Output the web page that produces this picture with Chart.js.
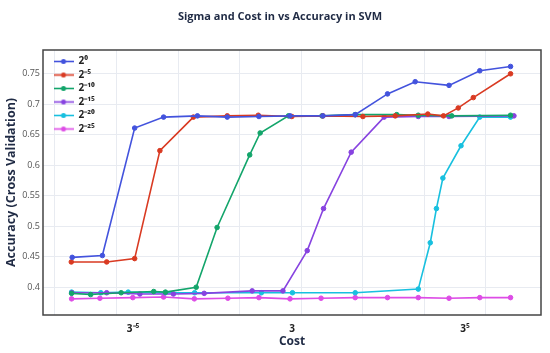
<!DOCTYPE html>
<html>
<head>
<meta charset="utf-8">
<script src="https://cdn.jsdelivr.net/npm/chart.js@4.4.1/dist/chart.umd.min.js"></script>
<style>
    html, body { margin: 0; padding: 0; background: #fff; }
    #wrap { width: 550px; height: 353px; }
</style>
</head>
<body>
<div id="wrap"><canvas id="chart" width="550" height="353"></canvas></div>
<script>
// Sigma (gamma) values shown in the legend
const sigmaLabels = ['2⁰', '2⁻⁵', '2⁻¹⁰', '2⁻¹⁵', '2⁻²⁰', '2⁻²⁵'];

// cost position (axis units) and accuracy for each sigma
const cost0 = [0.56, 1.54, 2.59, 3.53, 4.63, 5.60, 6.63, 7.64, 8.71, 9.76, 10.81, 11.71, 12.81, 13.81, 14.81];
const acc0  = [0.449, 0.452, 0.661, 0.679, 0.681, 0.679, 0.680, 0.681, 0.681, 0.683, 0.717, 0.737, 0.731, 0.755, 0.762];

const cost5 = [0.53, 1.68, 2.59, 3.41, 4.50, 5.60, 6.61, 7.70, 8.71, 10.01, 11.06, 12.12, 12.63, 13.11, 13.60, 14.81];
const acc5  = [0.4415, 0.4415, 0.447, 0.624, 0.679, 0.681, 0.682, 0.680, 0.681, 0.680, 0.681, 0.684, 0.681, 0.694, 0.711, 0.750];

const cost10 = [0.54, 1.16, 2.15, 3.21, 3.59, 4.59, 5.27, 6.33, 6.67, 7.59, 8.68, 9.76, 11.11, 11.81, 12.90, 14.81];
const acc10  = [0.390, 0.388, 0.391, 0.393, 0.392, 0.400, 0.498, 0.617, 0.653, 0.681, 0.681, 0.683, 0.683, 0.682, 0.681, 0.682];

const cost15 = [0.55, 1.68, 2.76, 3.85, 4.85, 6.41, 7.41, 8.20, 8.73, 9.63, 10.70, 11.81, 12.81, 14.92];
const acc15  = [0.391, 0.391, 0.389, 0.389, 0.390, 0.394, 0.394, 0.460, 0.529, 0.6215, 0.679, 0.680, 0.680, 0.681];

const cost20 = [0.54, 1.49, 2.38, 3.59, 4.54, 6.71, 7.72, 9.76, 11.81, 12.20, 12.40, 12.61, 13.20, 13.81, 14.81];
const acc20  = [0.392, 0.391, 0.392, 0.391, 0.391, 0.391, 0.391, 0.391, 0.397, 0.473, 0.529, 0.579, 0.632, 0.679, 0.679];

const cost25 = [0.54, 1.46, 2.53, 3.53, 4.53, 5.62, 6.63, 7.64, 8.65, 9.76, 10.81, 11.81, 12.81, 13.81, 14.81];
const acc25  = [0.381, 0.382, 0.383, 0.384, 0.381, 0.382, 0.383, 0.381, 0.382, 0.383, 0.383, 0.383, 0.382, 0.383, 0.383];

// axis ticks
const costGrid = [0, 2, 4, 6, 8, 10, 12, 14];
const costTickPos = [2.54, 7.71, 13.33];
const costTickText = ['3⁻⁵', '3', '3⁵'];
const accTicks = [0.4, 0.45, 0.5, 0.55, 0.6, 0.65, 0.7, 0.75];

const colors = ['#4353dd', '#d93a22', '#13a56b', '#8743e0', '#18c0df', '#dd4ce6'];
const costs = [cost0, cost5, cost10, cost15, cost20, cost25];
const accs = [acc0, acc5, acc10, acc15, acc20, acc25];

const xMin = -0.39, xMax = 15.8;

// small line+dot icon for legend entries
const makeIcon = (color) => {
    const c = document.createElement('canvas');
    c.width = 20; c.height = 7;
    const g = c.getContext('2d');
    g.strokeStyle = color; g.lineWidth = 1.6;
    g.beginPath(); g.moveTo(0, 3.5); g.lineTo(20, 3.5); g.stroke();
    g.fillStyle = color;
    g.beginPath(); g.arc(10, 3.5, 2.5, 0, Math.PI * 2); g.fill();
    return c;
};
const icons = colors.map(makeIcon);

const datasets = sigmaLabels.map((label, i) => ({
    label,
    data: costs[i].map((x, j) => ({ x, y: accs[i][j] })),
    borderColor: colors[i],
    backgroundColor: colors[i],
    pointBackgroundColor: colors[i],
    pointBorderColor: colors[i],
    borderWidth: 1.6,
    pointRadius: 2.3,
    pointBorderWidth: 1,
    tension: 0,
}));

const framePlugin = {
    id: 'frame',
    beforeDatasetsDraw(chart) {
        const { ctx, chartArea: a } = chart;
        ctx.save();
        ctx.strokeStyle = '#444';
        ctx.lineWidth = 1.5;
        ctx.strokeRect(a.left, a.top, a.right - a.left, a.bottom - a.top);
        ctx.restore();
    },
};

// legend sits inside the plot, title is centred a bit right of the canvas
const placeBoxes = {
    id: 'placeBoxes',
    afterLayout(chart) {
        const lg = chart.legend;
        if (lg) {
            const h = lg.height;
            lg.left = chart.chartArea.left + 7;
            lg.top = chart.chartArea.top + 3;
            lg.bottom = lg.top + h;
        }
        if (chart.titleBlock) {
            chart.titleBlock.left += 19;
        }
    },
};

const titleColor = '#1f2a44';

new Chart(document.getElementById('chart'), {
    type: 'line',
    data: { datasets },
    plugins: [framePlugin, placeBoxes],
    options: {
        responsive: false,
        animation: false,
        layout: { padding: { left: 0, right: 9, top: 0, bottom: 0 } },
        plugins: {
            title: {
                display: true,
                text: 'Sigma and Cost in vs Accuracy in SVM',
                color: titleColor,
                font: { family: 'Open Sans', size: 11, weight: 'bold' },
                padding: { top: 10, bottom: 26.8 },
            },
            legend: {
                position: 'chartArea',
                align: 'start',
                labels: {
                    usePointStyle: true,
                    pointStyleWidth: 20,
                    color: '#222',
                    padding: 3.5,
                    font: { family: 'Open Sans', size: 10, weight: 'bold', lineHeight: 1 },
                    generateLabels: (chart) => {
                        const items = Chart.defaults.plugins.legend.labels.generateLabels(chart);
                        items.forEach((it, i) => { it.pointStyle = icons[i]; });
                        return items;
                    },
                },
            },
            tooltip: { enabled: false },
        },
        scales: {
            x: {
                type: 'linear',
                position: 'bottom',
                min: xMin,
                max: xMax,
                afterBuildTicks: (s) => { s.ticks = costGrid.map((v) => ({ value: v })); },
                afterFit: (s) => { s.height = 0; },
                grid: { color: '#e8ebf1', drawTicks: false },
                border: { display: false },
                ticks: { display: false },
            },
            xl: {
                type: 'linear',
                position: 'bottom',
                min: xMin,
                max: xMax,
                afterBuildTicks: (s) => { s.ticks = costTickPos.map((v) => ({ value: v })); },
                afterFit: (s) => { s.height = 38; },
                grid: { display: false, drawTicks: false },
                border: { display: false },
                ticks: {
                    autoSkip: false,
                    maxRotation: 0,
                    padding: 8,
                    color: '#222',
                    font: { family: 'Open Sans', size: 10, weight: 'bold' },
                    callback: (v, i) => costTickText[i],
                },
                title: {
                    display: true,
                    text: 'Cost',
                    color: titleColor,
                    font: { family: 'Open Sans', size: 12, weight: 'bold' },
                    padding: { top: 0, bottom: 4 },
                },
            },
            y: {
                min: 0.3545,
                max: 0.789,
                afterBuildTicks: (s) => { s.ticks = accTicks.map((v) => ({ value: v })); },
                afterFit: (s) => { s.width = 43; },
                grid: { color: '#e8ebf1', drawTicks: false },
                border: { display: false },
                ticks: {
                    padding: 3,
                    color: '#555',
                    font: { family: 'Open Sans', size: 9 },
                    callback: (v) => String(v),
                },
                title: {
                    display: true,
                    text: 'Accuracy (Cross Validation)',
                    color: titleColor,
                    font: { family: 'Open Sans', size: 12.5, weight: 'bold' },
                    padding: { top: 4, bottom: 0 },
                },
            },
        },
    },
});
</script>
</body>
</html>
